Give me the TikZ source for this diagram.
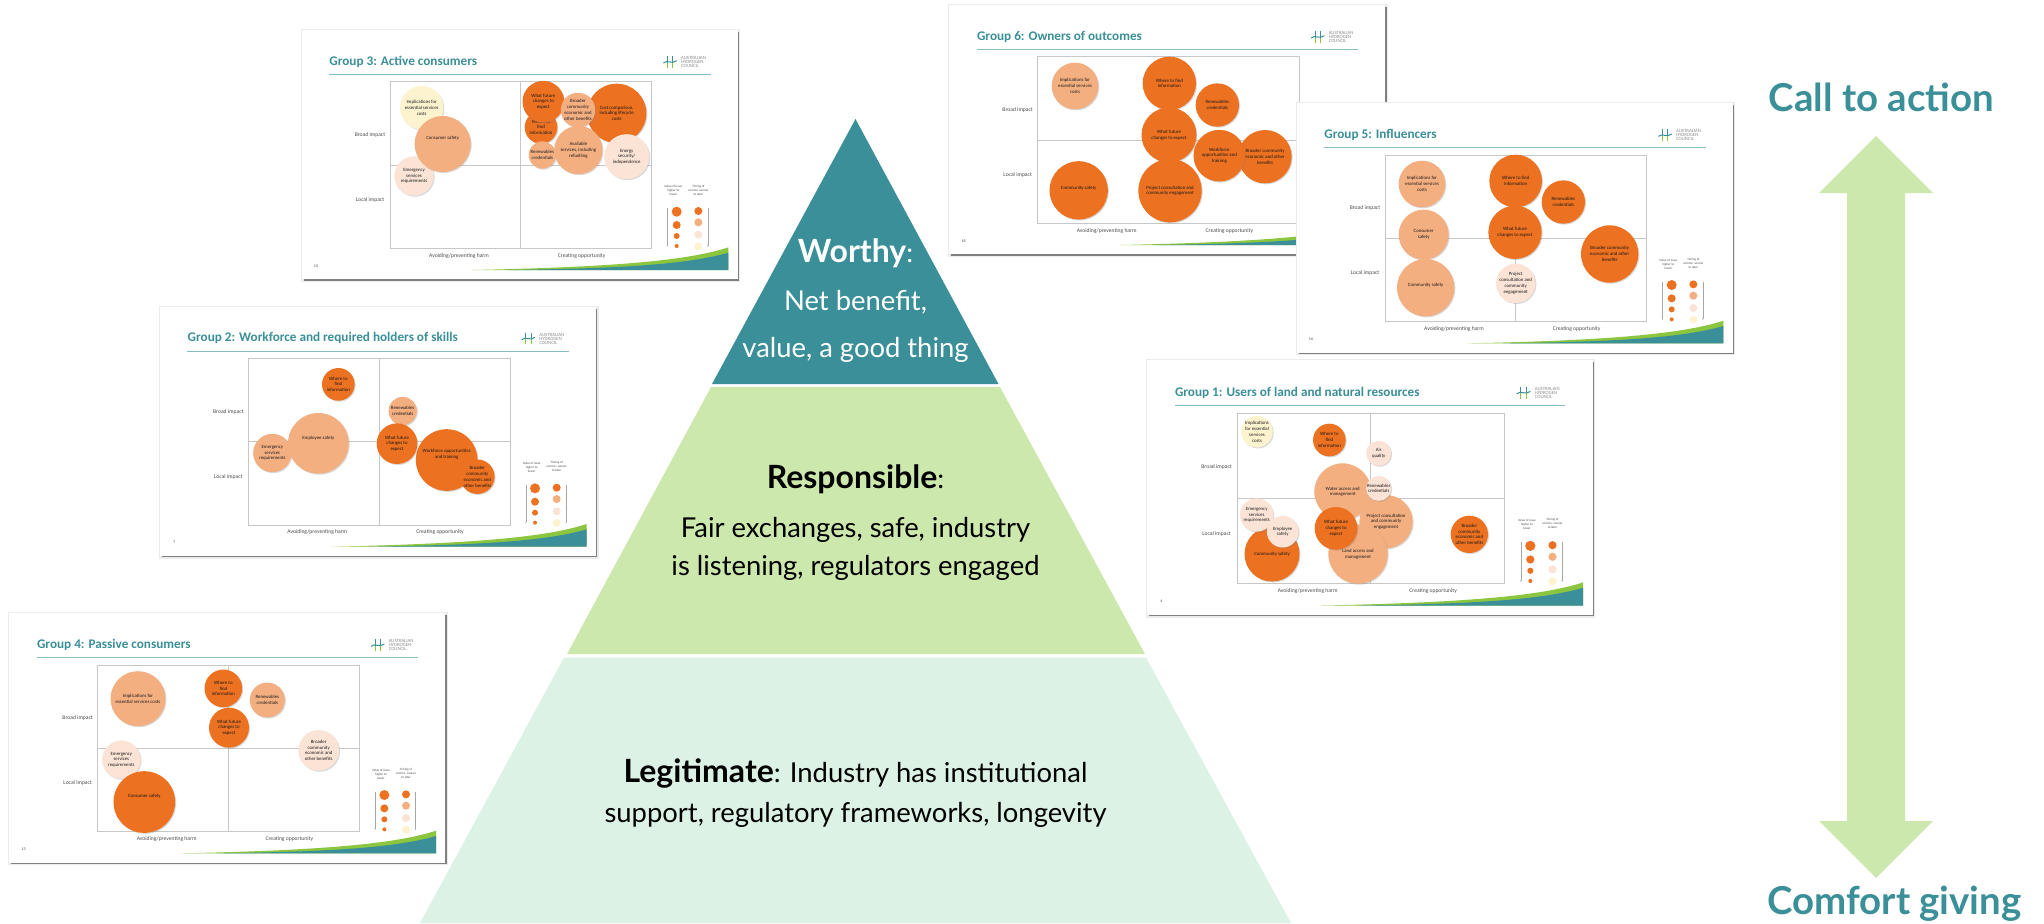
\documentclass[tikz,border=0pt]{standalone}
\usepackage{fontspec}
\setmainfont{Carlito}
\newfontfamily\gillfont{Lato}
\usetikzlibrary{shadows,arrows.meta}

\definecolor{tealbase}{HTML}{3A8F98}
\definecolor{greenmid}{HTML}{CDE8AD}
\definecolor{greenpale}{HTML}{DCF2E5}
\definecolor{swoosh}{HTML}{8CC63F}
\definecolor{hot}{HTML}{EC7121}
\definecolor{warm}{HTML}{F4AF81}
\definecolor{peach}{HTML}{FBE3D5}
\definecolor{cream}{HTML}{FEF3CF}

\newcommand{\heavy}[1]{{\bfseries\fontsize{16}{15}\selectfont #1}}

\tikzset{
  pyrtext/.style={anchor=base, font=\gillfont\fontsize{13.7}{15}\selectfont},
  sidetext/.style={anchor=base, text=tealbase, font=\gillfont\bfseries\fontsize{19.2}{22}\selectfont},
  slidetitle/.style={anchor=west, inner sep=0pt, text=tealbase, font=\bfseries\fontsize{6.6}{7}\selectfont},
  axislabel/.style={text=black!70, font=\fontsize{2.8}{3.4}\selectfont},
  legendtext/.style={align=center, text=black!70, font=\fontsize{1.6}{2}\selectfont},
  logotext/.style={anchor=west, inner sep=0pt, align=left, text=black!45, font=\fontsize{2.4}{2}\selectfont},
  bubble/.style={circle, inner sep=0pt, align=center, text=black!90,
    font=\fontsize{2.4}{2.9}\selectfont,
    drop shadow={shadow xshift=0.5pt, shadow yshift=-0.5pt, opacity=0.3}},
}

% one slide, drawn in the units of a threefold enlargement
\newcommand{\slideframe}[4]{%
  \begin{scope}[shift={(#1,#2)},scale=#3]
    \fill[black!8]  (-3,-3) rectangle (1316,756);
    \fill[black!50] (6,6) rectangle (1312,752);
    \fill[white]    (0,0) rectangle (1308,748);
    \node[slidetitle] at (82,95) {#4};
    \draw[tealbase!60,line width=0.25pt] (82,133) -- (1227,133);
    % logo
    \draw[tealbase,line width=0.5pt] (1085,99) .. controls (1096,88) and (1112,104) .. (1125,92);
    \draw[tealbase,line width=0.5pt] (1097,78) -- (1097,98);
    \draw[tealbase,line width=0.5pt] (1113,78) -- (1113,98);
    \draw[swoosh,line width=0.5pt] (1097,98) -- (1097,113);
    \draw[swoosh,line width=0.5pt] (1113,98) -- (1113,113);
    \node[logotext] at (1137,96) {AUSTRALIAN\\HYDROGEN\\COUNCIL};
    % plot
    \draw[black!22,line width=0.3pt] (265,155) rectangle (1050,655);
    \draw[black!22,line width=0.3pt] (657,155) -- (657,655);
    \draw[black!22,line width=0.3pt] (265,405) -- (1050,405);
    \node[axislabel] at (205,315) {Broad impact};
    \node[axislabel] at (205,510) {Local impact};
    \node[axislabel] at (472,677) {Avoiding/preventing harm};
    \node[axislabel] at (840,677) {Creating opportunity};
    % legend
    \node[legendtext] at (1115,482) {Value of issue\\higher to\\lower};
    \node[legendtext] at (1190,480) {Timing of\\comms: sooner\\to later};
    \draw[black!35,line width=0.12pt,-{Stealth[length=0.7pt,width=0.6pt]}] (1097,535) -- (1097,650);
    \draw[black!35,line width=0.12pt,-{Stealth[length=0.7pt,width=0.6pt]}] (1218,535) -- (1218,650);
    \fill[hot]   (1125,545) circle (15);
    \fill[hot]   (1125,585) circle (12);
    \fill[hot]   (1125,618) circle (9);
    \fill[hot]   (1125,648) circle (6);
    \fill[hot]   (1190,543) circle (12);
    \fill[warm]  (1190,577) circle (12);
    \fill[peach] (1190,614) circle (12);
    \fill[cream] (1190,649) circle (12);
    % ribbon
    \fill[swoosh] (510,720) .. controls (900,712) and (1150,695) .. (1280,652) -- (1280,720) -- cycle;
    \fill[tealbase] (620,720) .. controls (950,715) and (1150,705) .. (1280,668) -- (1280,720) -- cycle;
    \node[axislabel,font=\fontsize{2}{2.4}\selectfont] at (43,708) {\thepagetag};
  \end{scope}}

\newcommand{\bubbles}[2]{%
  \foreach \cx/\cy/\dd/\tint/\txt [count=\i] in {#2}
    \node[bubble,fill=\tint,minimum size=\dd*0.16667pt] (#1-\i) at (\cx,\cy) {\txt};}

\begin{document}
\begin{tikzpicture}[x=0.5pt,y=-0.5pt]
  \useasboundingbox (0,0) rectangle (2044,923);

  % pyramid
  \fill[greenpale] (564,657.5) -- (1146,657.5) -- (1291,923) -- (420,923) -- cycle;
  \fill[greenmid]  (711,387) -- (1000,387) -- (1145,654) -- (567,654) -- cycle;
  \fill[tealbase]  (855.5,119) -- (998.5,384) -- (712,384) -- cycle;
  \node[pyrtext,text=white] (worthy) at (855.5,262) {\heavy{Worthy}:};
  \node[pyrtext,text=white] (worthya) at (855.5,310) {Net benefit,};
  \node[pyrtext,text=white] (worthyb) at (855.5,357) {value, a good thing};
  \node[pyrtext] (respons) at (855.5,488) {\heavy{Responsible}:};
  \node[pyrtext] (responsa) at (855.5,537) {Fair exchanges, safe, industry};
  \node[pyrtext] (responsb) at (855.5,575) {is listening, regulators engaged};
  \node[pyrtext] (legita) at (855.5,782) {\heavy{Legitimate}: Industry has institutional};
  \node[pyrtext] (legitb) at (855.5,822) {support, regulatory frameworks, longevity};

  % arrow
  \fill[greenmid] (1876,136) -- (1933,193) -- (1905,193) -- (1905,821) -- (1933,821)
    -- (1876,878) -- (1819,821) -- (1847,821) -- (1847,193) -- (1819,193) -- cycle;
  \node[sidetext] (callact) at (1881.5,111) {Call to action};
  \node[sidetext] (comfort) at (1894.5,914) {Comfort giving};

  % group 3
  \begin{scope}[shift={(290,10)},x=0.16667pt,y=-0.16667pt]
    \def\thepagetag{10}
    \slideframe{35}{60}{1}{Group 3: Active consumers}
    \bubbles{gthree}{
      395/293/130/cream/{Implications for\\essential services\\costs},
      372/498/118/peach/{Emergency\\services\\requirements},
      458/402/168/warm/{Consumer safety\\~\\~},
      980/310/178/hot/{Cost comparison,\\including lifecycle\\costs},
      753/352/98/hot/{Where to\\find\\information},
      760/275/125/hot/{What future\\changes to\\expect},
      864/300/100/warm/{Broader\\community\\economic and\\other benefits},
      757/435/82/warm/{Renewables\\credentials},
      865/420/145/warm/{Available\\services, including\\refuelling},
      1010/440/135/peach/{Energy\\security/\\independence}}
  \end{scope}

  % group 2
  \begin{scope}[shift={(150,300)},x=0.16667pt,y=-0.16667pt]
    \def\thepagetag{7}
    \slideframe{30}{20}{1}{Group 2: Workforce and required holders of skills}
    \bubbles{gtwo}{
      565/253/98/hot/{Where to\\find\\information},
      367/459/115/warm/{Emergency\\services\\requirements},
      505/430/182/warm/{Employee safety\\~\\~},
      758/333/85/warm/{Renewables\\credentials},
      741/431/122/hot/{What future\\changes to\\expect},
      890/480/185/hot/{Workforce opportunities\\and training\\~\\~},
      982/530/100/hot/{Broader\\community\\economic and\\other benefits}}
  \end{scope}

  % group 4
  \begin{scope}[shift={(0,605)},x=0.16667pt,y=-0.16667pt]
    \def\thepagetag{13}
    \slideframe{28}{25}{1}{Group 4: Passive consumers}
    \bubbles{gfour}{
      414/281/165/warm/{Implications for\\essential services costs},
      670/250/113/hot/{Where to\\find\\information},
      802/285/105/warm/{Renewables\\credentials},
      687/368/120/hot/{What future\\changes to\\expect},
      956/436/122/peach/{Broader\\community\\economic and\\other benefits},
      364/464/115/peach/{Emergency\\services\\requirements},
      433/591/185/hot/{Consumer safety\\~\\~}}
  \end{scope}

  % group 6
  \begin{scope}[shift={(940,0)},x=0.16667pt,y=-0.16667pt]
    \def\thepagetag{18}
    \slideframe{28}{15}{1}{Group 6: Owners of outcomes}
    \bubbles{gsix}{
      405/258/140/warm/{Implications for\\essential services\\costs},
      688/250/160/hot/{Where to find\\information},
      832/315/130/hot/{Renewables\\credentials},
      687/405/165/hot/{What future\\changes to expect},
      975/470/160/hot/{Broader community\\economic and other\\benefits},
      838/467/155/hot/{Workforce\\opportunities and\\training},
      416/571/175/hot/{Community safety\\~},
      690/572/190/hot/{Project consultation and\\community engagement}}
  \end{scope}

  % group 5
  \begin{scope}[shift={(1290,95)},x=0.16667pt,y=-0.16667pt]
    \def\thepagetag{16}
    \slideframe{20}{25}{1}{Group 5: Influencers}
    \bubbles{gfive}{
      396/267/140/warm/{Implications for\\essential services\\costs},
      677/258/158/hot/{Where to find\\information},
      820/321/130/hot/{Renewables\\credentials},
      401/419/150/warm/{Consumer\\safety},
      675/412/160/hot/{What future\\changes to expect},
      959/477/172/hot/{Broader community\\economic and other\\benefits},
      407/578/172/warm/{Community safety\\~},
      677/565/118/peach/{Project\\consultation and\\community\\engagement}}
  \end{scope}

  % group 1
  \begin{scope}[shift={(1140,350)},x=0.16667pt,y=-0.16667pt]
    \def\thepagetag{4}
    \slideframe{20}{30}{1.023}{Group 1: Users of land and natural resources}
    \bubbles{gone}{
      351/245/90/cream/{Implications\\for essential\\services\\costs},
      568/270/98/hot/{Where to\\find\\information},
      716/310/75/peach/{Air\\quality},
      608/425/170/warm/{Water access and\\management},
      738/515/160/warm/{Project consultation\\and community\\engagement},
      716/415/75/peach/{Renewables\\credentials},
      654/612/178/warm/{Land access and\\management},
      588/535/128/hot/{What future\\changes to\\expect},
      396/612/165/hot/{Community safety},
      350/495/100/peach/{Emergency\\services\\requirements},
      428/545/95/peach/{Employee\\safety},
      988/553/112/hot/{Broader\\community\\economic and\\other benefits}}
  \end{scope}
\end{tikzpicture}
\end{document}
